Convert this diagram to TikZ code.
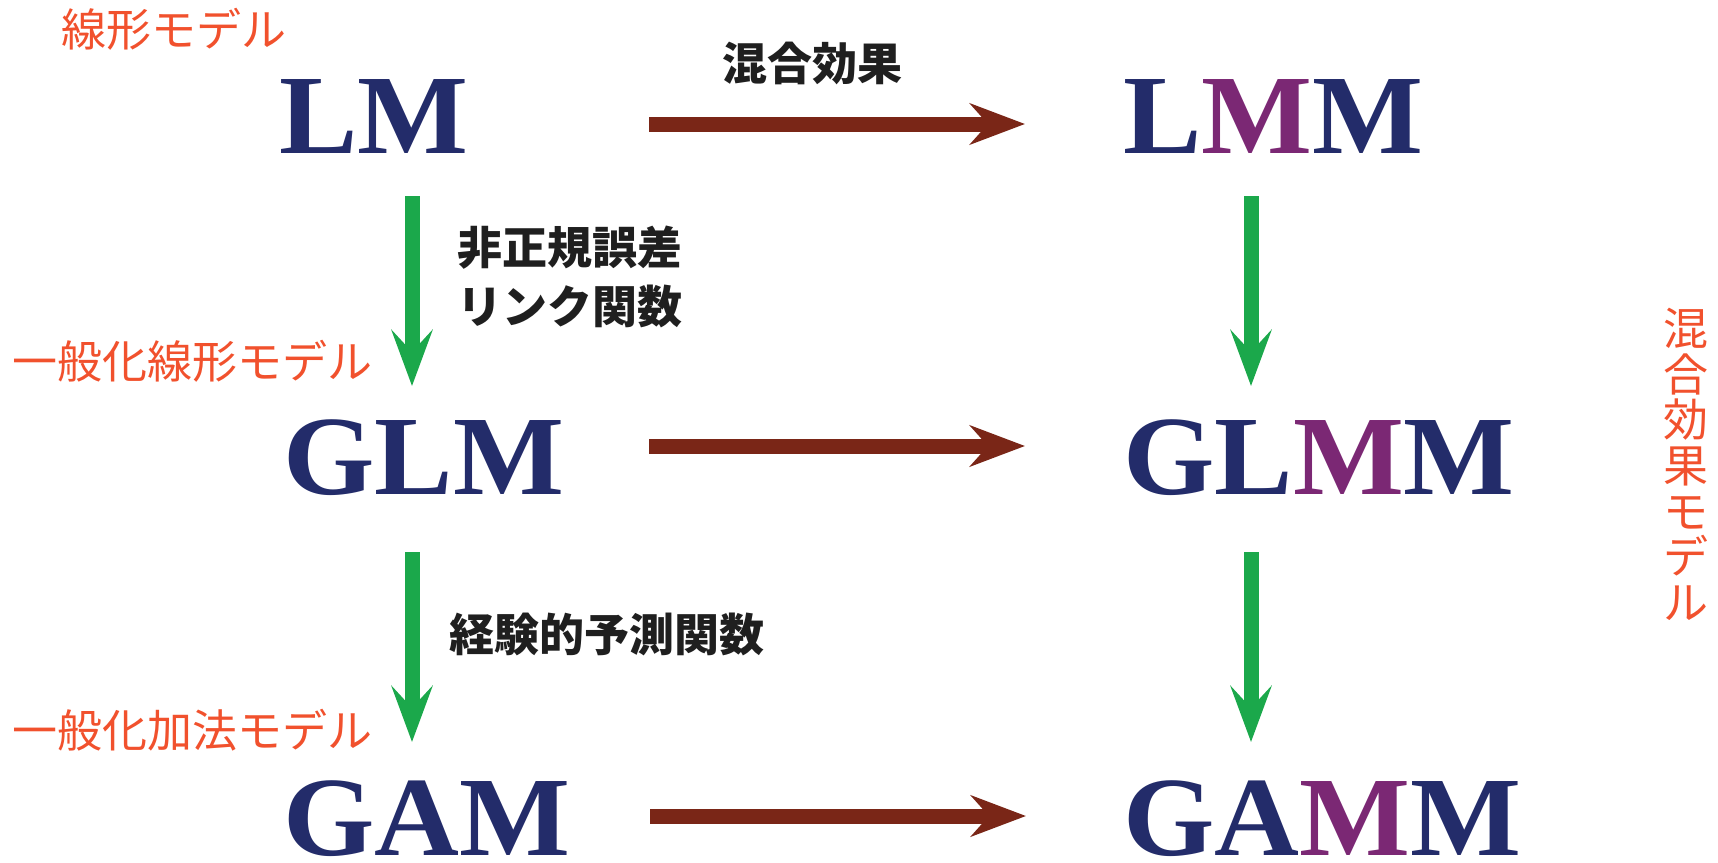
\documentclass[tikz,border=0pt]{standalone}
\usepackage{fontspec}
\setmainfont{Liberation Serif}
\newfontfamily\cjk{Noto Sans CJK JP}
\usetikzlibrary{arrows.meta}
\definecolor{navy}{RGB}{35,44,106}
\definecolor{mmpurple}{RGB}{123,40,116}
\definecolor{arrbrown}{RGB}{122,38,23}
\definecolor{arrgreen}{RGB}{27,168,75}
\definecolor{labred}{RGB}{241,81,45}
\newcommand{\wide}[1]{\scalebox{1.04}[1]{#1}}
\tikzset{
  big/.style={inner sep=0pt, anchor=base west, text=navy, font=\fontsize{113}{113}\selectfont\bfseries},
  redlab/.style={inner sep=0pt, text=labred, font=\cjk\fontsize{45}{45.6}\selectfont},
  blacklab/.style={inner sep=0pt, text=black!88, font=\cjk\bfseries\fontsize{45}{45}\selectfont},
  harrow/.style={draw=arrbrown, line width=15pt, -{Stealth[length=55pt, width=41pt, inset=18pt, fill=arrbrown]}},
  varrow/.style={draw=arrgreen, line width=15pt, -{Stealth[length=56pt, width=41pt, inset=22pt, fill=arrgreen]}}
}
\begin{document}
\begin{tikzpicture}[x=1pt, y=-1pt]
\useasboundingbox (0,0) rectangle (1718,862);
% big model names
\node[big] (LM)   at (279,153) {\wide{LM}};
\node[big] (LMM)  at (1123,153) {\wide{L\textcolor{mmpurple}{M}M}};
\node[big] (GLM)  at (283,494) {\wide{GLM}};
\node[big] (GLMM) at (1123,494) {\wide{GL\textcolor{mmpurple}{M}M}};
\node[big] (GAM)  at (283,855) {\wide{GAM}};
\node[big] (GAMM) at (1123,855) {\wide{GA\textcolor{mmpurple}{M}M}};
% red labels
\node[redlab, anchor=west] (l1) at (61,29) {線形モデル};
\node[redlab, anchor=west] (l2) at (12,361) {一般化線形モデル};
\node[redlab, anchor=west] (l3) at (12,730) {一般化加法モデル};
\node[redlab, anchor=north, align=center] (l4) at (1686,308) {混\\合\\効\\果\\モ\\デ\\ル};
% black labels
\node[blacklab, anchor=west] (b1) at (722,63) {混合効果};
\node[blacklab, anchor=west] (b2) at (457,248) {非正規誤差};
\node[blacklab, anchor=west] (b3) at (457,306) {リンク関数};
\node[blacklab, anchor=west] (b4) at (449,634) {経験的予測関数};
% arrow end points
\coordinate (h1s) at (649,124);  \coordinate (h1e) at (1025,124);
\coordinate (h2s) at (649,446);  \coordinate (h2e) at (1025,446);
\coordinate (h3s) at (650,816);  \coordinate (h3e) at (1026,816);
\coordinate (v1s) at (412,196);  \coordinate (v1e) at (412,386);
\coordinate (v2s) at (1251,196); \coordinate (v2e) at (1251,386);
\coordinate (v3s) at (412,552);  \coordinate (v3e) at (412,742);
\coordinate (v4s) at (1251,552); \coordinate (v4e) at (1251,742);
\draw[harrow] (h1s) -- (h1e);
\draw[harrow] (h2s) -- (h2e);
\draw[harrow] (h3s) -- (h3e);
\draw[varrow] (v1s) -- (v1e);
\draw[varrow] (v2s) -- (v2e);
\draw[varrow] (v3s) -- (v3e);
\draw[varrow] (v4s) -- (v4e);
\end{tikzpicture}
\end{document}
